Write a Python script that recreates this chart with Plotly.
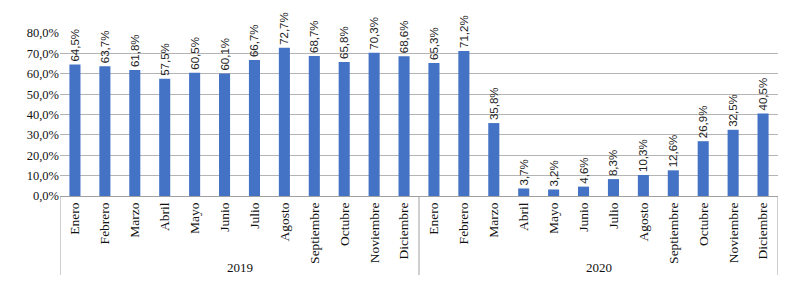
import plotly.graph_objects as go

years = ["2019", "2020"]
months = ["Enero", "Febrero", "Marzo", "Abril", "Mayo", "Junio", "Julio",
          "Agosto", "Septiembre", "Octubre", "Noviembre", "Diciembre"]
values_2019 = [64.5, 63.7, 61.8, 57.5, 60.5, 60.1, 66.7, 72.7, 68.7, 65.8, 70.3, 68.6]
values_2020 = [65.3, 71.2, 35.8, 3.7, 3.2, 4.6, 8.3, 10.3, 12.6, 26.9, 32.5, 40.5]

values = [v / 100 for v in values_2019 + values_2020]
labels = months + months
xs = list(range(len(values)))
texts = [f"{v:.1f}%".replace(".", ",") for v in values_2019 + values_2020]

serif = "Liberation Serif"

fig = go.Figure()
fig.add_trace(go.Bar(
    x=xs, y=values, width=0.37,
    marker=dict(color="#4472C4", line=dict(width=0)),
    text=texts, textposition="outside", textangle=-90,
    constraintext="none", cliponaxis=False,
    textfont=dict(family="Liberation Sans", size=11.5, color="#222222"),
    hoverinfo="skip",
))

n = len(months)
shapes = []
for b in [-0.5, n - 0.5, 2 * n - 0.5]:
    shapes.append(dict(type="line", xref="x", yref="paper", x0=b, x1=b,
                       y0=0, y1=-0.485, line=dict(color="#a0a0a0", width=1)))
annotations = []
for i, yr in enumerate(years):
    annotations.append(dict(x=i * n + (n - 1) / 2, y=-0.44, xref="x", yref="paper",
                            text=yr, showarrow=False, yanchor="middle",
                            font=dict(family=serif, size=13, color="#111111")))

fig.update_layout(
    width=799, height=298,
    margin=dict(l=52, r=29, t=25, b=110, autoexpand=False),
    paper_bgcolor="white", plot_bgcolor="white",
    separators=",.",
    showlegend=False,
    shapes=shapes, annotations=annotations,
    xaxis=dict(
        range=[-0.5, 2 * n - 0.5], automargin=False,
        tickmode="array", tickvals=xs, ticktext=labels, tickangle=-90,
        tickfont=dict(family=serif, size=13.5, color="#111111"),
        showgrid=False, showline=True, linecolor="#a0a0a0", linewidth=1,
        ticks="", zeroline=False,
    ),
    yaxis=dict(
        range=[0, 0.8], tickformat=".1%", dtick=0.1, automargin=False,
        tickfont=dict(family=serif, size=12.5, color="#111111"),
        showgrid=True, gridcolor="#b4b4b4", gridwidth=1,
        zeroline=False, showline=False, ticks="",
    ),
)

fig.write_html("out.html")
